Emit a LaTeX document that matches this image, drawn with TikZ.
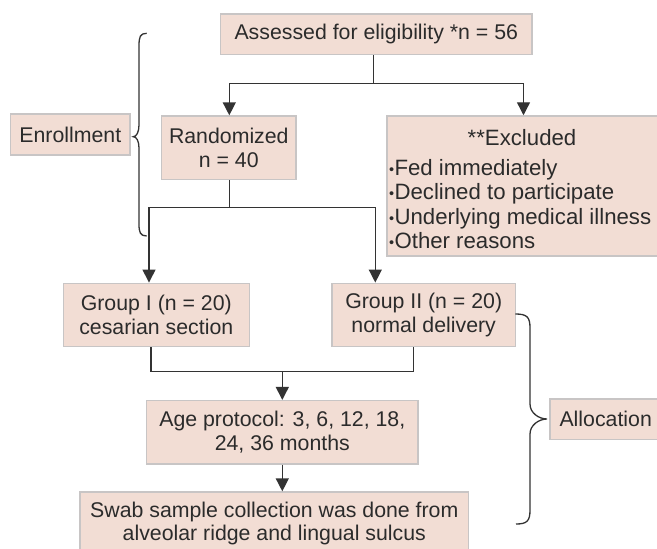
\documentclass[tikz,border=0pt]{standalone}
\usepackage{fontspec}
\setmainfont{Liberation Sans}
\usetikzlibrary{arrows.meta,calc}
\definecolor{boxfill}{HTML}{F2DDD4}
\definecolor{boxline}{HTML}{C8C5C5}
\definecolor{ink}{HTML}{2B2B2B}
\definecolor{wire}{HTML}{333333}
\newcommand{\smallbul}{\raisebox{0.8pt}{\fontsize{14.5}{14.5}\selectfont•}\hspace{0.3pt}}
\begin{document}
\begin{tikzpicture}[x=1pt,y=-1pt,
  box/.style={draw=boxline, line width=1.5pt, fill=boxfill, inner sep=0pt,
    align=center, text=ink, font=\fontsize{21.3}{23.5}\selectfont},
  txt/.style={inner sep=0pt, text=ink, font=\fontsize{22.2}{24.3}\selectfont},
  conn/.style={draw=wire, line width=1.4pt},
  arr/.style={conn, -{Triangle[length=13pt,width=13pt]}},
  bracepath/.style={draw=wire, line width=1.3pt}]
\useasboundingbox (0,0) rectangle (657,549);

% boxes
\node[box, minimum width=311.3pt, minimum height=40.3pt] (assess) at (376.3,34.2) {Assessed for eligibility *n = 56};
\node[box, minimum width=119.3pt, minimum height=41pt] (enroll) at (70.3,134.5) {Enrollment};
\node[box, minimum width=134.3pt, minimum height=63.3pt] (rand) at (228.8,147.7) {Randomized\\n = 40};
\node[box, minimum width=273pt, minimum height=140pt] (excl) at (523.5,186) {};
\node[txt] (exclt) at (522,138) {**Excluded};
\node[txt, anchor=west, align=left] (excll) at (389,204) {\smallbul Fed immediately\\\smallbul Declined to participate\\\smallbul Underlying medical illness\\\smallbul Other reasons};
\node[box, minimum width=186pt, minimum height=63.4pt] (g1) at (156.3,315) {Group I (n = 20)\\cesarian section};
\node[box, minimum width=183.3pt, minimum height=63.4pt] (g2) at (423.7,315) {Group II (n = 20)\\normal delivery};
\node[box, minimum width=271.3pt, minimum height=63.3pt] (age) at (282.3,432.3) {Age protocol: 3, 6, 12, 18,\\24, 36 months};
\node[box, minimum width=388.7pt, minimum height=63.3pt] (swab) at (274.3,523.7) {Swab sample collection was done from\\alveolar ridge and lingual sulcus};
\node[box, minimum width=111pt, minimum height=40.7pt] (alloc) at (605.7,419.3) {Allocation};

% connectors
\coordinate (j1) at (373.7,83.3);
\draw[conn] (assess.south -| j1) -- (j1);
\draw[arr] (j1) -| ([xshift=0.5pt]rand.north);
\draw[arr] (j1) -| (excl.north);

\coordinate (j2) at (229.3,207.7);
\draw[conn] ([xshift=0.5pt]rand.south) -- (j2);
\draw[arr] (j2) -| ([xshift=-7.3pt]g1.north);
\draw[arr] (j2) -| ([xshift=-48.4pt]g2.north);

\coordinate (j3) at (282.3,371.7);
\draw[conn] ([xshift=-5.3pt]g1.south) |- (j3);
\draw[conn] ([xshift=-10pt]g2.south) |- (j3);
\draw[arr] (j3) -- (age.north);
\draw[arr] (age.south) -- ([xshift=8pt]swab.north);

% braces
\draw[bracepath] (146.7,33.3) .. controls (140,33.3) and (139,37) .. (139,46)
  -- (139,125) .. controls (139,132) and (136.5,136.7) .. (133.3,136.7)
  .. controls (136.5,136.7) and (139,141) .. (139,148)
  -- (139,224) .. controls (139,232) and (140,236) .. (146.7,236);
\draw[bracepath] (515.3,314) .. controls (527,314) and (530,317) .. (530,328)
  -- (530,404) .. controls (530,413) and (539,419) .. (547,419)
  .. controls (539,419) and (530,425) .. (530,434)
  -- (530,510) .. controls (530,521) and (527,524) .. (516,524);
\end{tikzpicture}
\end{document}
